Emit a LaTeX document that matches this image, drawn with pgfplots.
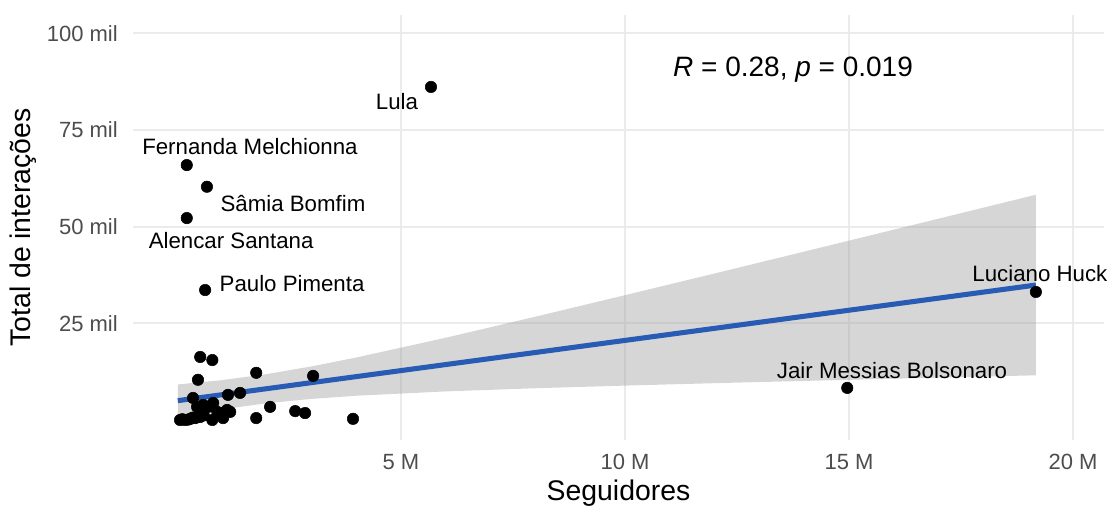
\documentclass[border=0pt]{standalone}
\usepackage{fontspec}
\setmainfont{Liberation Sans}
\usepackage{pgfplots}
\pgfplotsset{compat=1.18}
\usetikzlibrary{calc}

\definecolor{gridc}{HTML}{EBEBEB}
\definecolor{tickc}{HTML}{4D4D4D}
\definecolor{ribbonc}{RGB}{153,153,153}
\definecolor{fitblue}{RGB}{40,92,180}
\newcommand{\fs}[1]{\fontsize{#1}{#1}\selectfont}

\begin{document}
\begin{tikzpicture}
\begin{axis}[
    scale only axis,
    width=728.25pt, height=318.75pt,
    xmin=-0.98, xmax=20.69,
    ymin=-5.17, ymax=104.7,
    clip=false,
    axis line style={draw=none},
    major tick length=0pt,
    grid=major,
    major grid style={draw=gridc, line width=1.6pt},
    xtick={5,10,15,20},
    xticklabels={5 M,10 M,15 M,20 M},
    ytick={25,50,75,100},
    yticklabels={25 mil,50 mil,75 mil,100 mil},
    xticklabel style={font=\fs{16.5pt}, text=tickc, anchor=base, inner sep=0pt, yshift=-21.75pt},
    yticklabel style={font=\fs{16.5pt}, text=tickc, anchor=east, inner sep=0pt, xshift=-11.25pt},
]
\coordinate (sw) at (rel axis cs:0,0);
\coordinate (ne) at (rel axis cs:1,1);

% deputados
\addplot[only marks, mark=*, mark size=4.3pt, mark options={fill=black, draw=black}] coordinates {
    (5.67,86.1) (0.22,65.9) (0.67,60.3) (0.22,52.2) (0.63,33.6)
    (19.17,33.1) (14.96,8.3)
    (0.52,16.3) (0.79,15.5) (0.47,10.4) (1.77,12.2) (3.04,11.4)
    (0.36,5.7) (1.14,6.5) (1.41,7.0) (2.08,3.4) (2.64,2.3) (2.86,1.8)
    (3.93,0.3) (1.77,0.5) (0.79,0.0) (1.03,0.5) (0.59,3.9) (0.81,4.4)
    (1.12,2.6) (0.07,0.0) (0.18,0.0) (0.30,0.3) (0.41,0.5) (0.52,0.8)
    (0.45,3.4) (0.56,2.1) (0.70,3.4) (0.90,2.1) (1.01,1.8) (1.19,2.1)
    (0.12,0.2) (0.25,0.1) (0.35,0.6) (0.60,1.2)
};

% intervalo de confianca
\addplot[draw=none, fill=ribbonc, fill opacity=0.4] coordinates {
    (0.02,9.19) (1,10.30) (2,11.86) (3,13.85) (4,16.15) (6,21.27) (8,26.71)
    (10,32.27) (12,37.88) (14,43.54) (16,49.21) (18,54.90) (19.17,58.23)
    (19.17,11.55) (18,11.24) (16,10.67) (14,10.10) (12,9.52) (10,8.89)
    (8,8.21) (6,7.39) (4,6.27) (3,5.45) (2,4.32) (1,2.76) (0.02,0.81)
};

% reta ajustada
\addplot[fitblue, line width=3.8pt] coordinates {(0.02,5.0) (19.17,34.89)};

\node[font=\fs{16.7pt}] at (axis cs:4.91,82.2) {Lula};
\node[font=\fs{16.7pt}] at (axis cs:1.63,70.6) {Fernanda Melchionna};
\node[font=\fs{16.7pt}] at (axis cs:2.59,55.9) {Sâmia Bomfim};
\node[font=\fs{16.7pt}] at (axis cs:1.21,46.5) {Alencar Santana};
\node[font=\fs{16.7pt}] at (axis cs:2.57,35.2) {Paulo Pimenta};
\node[font=\fs{16.7pt}] at (axis cs:19.26,37.8) {Luciano Huck};
\node[font=\fs{16.7pt}] at (axis cs:15.96,12.9) {Jair Messias Bolsonaro};
\node[font=\fs{21pt}] at (axis cs:13.75,90.5) {$\mathit{R}$ = 0.28, \textit{p} = 0.019};
\end{axis}

\node[font=\fs{21.3pt}, anchor=base] at ($(sw)!0.5!(sw -| ne)+(0,-45pt)$) {Seguidores};
\node[font=\fs{21.3pt}, anchor=base, rotate=90] at ($(sw)+(-76.5pt,159.4pt)$) {Total de interações};

\pgfresetboundingbox
\path ($(sw)+(-99.75pt,-50.25pt)$) rectangle ($(ne)+(4.5pt,11.25pt)$);
\end{tikzpicture}
\end{document}
